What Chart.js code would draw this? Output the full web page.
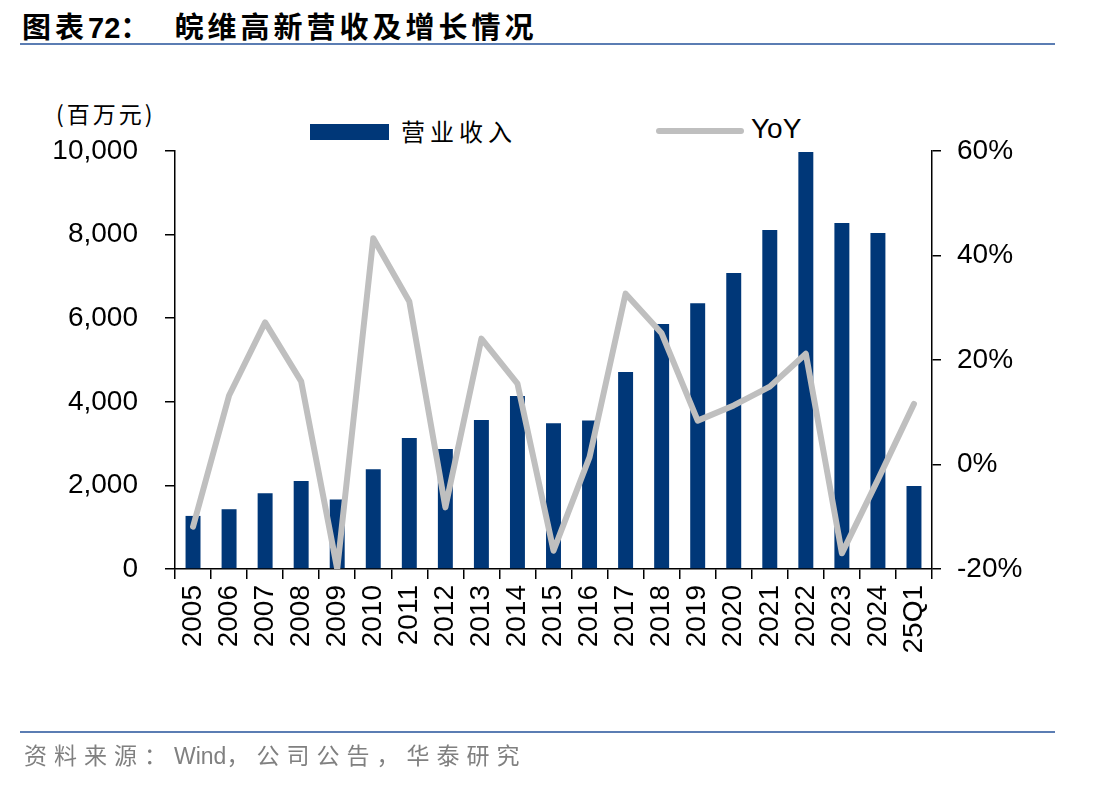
<!DOCTYPE html>
<html>
<head>
<meta charset="utf-8">
<script src="https://cdn.jsdelivr.net/npm/chart.js@4/dist/chart.umd.min.js"></script>
<style>
    body { margin: 0; background: #fff; }
    #wrap { position: relative; width: 1112px; height: 786px; overflow: hidden; font-family: "Liberation Sans", Arial, "Noto Sans CJK SC", sans-serif; }
    #chart { position: absolute; left: 0; top: 0; }
    .title { position: absolute; left: 22px; top: 4px; font-family: "Noto Sans CJK SC", sans-serif; font-weight: 700; font-size: 29px; letter-spacing: 4px; color: #000; white-space: nowrap; }
    .title .num { font-family: "Liberation Sans", Arial, sans-serif; font-weight: 700; letter-spacing: 0; }
    .rule { position: absolute; left: 20px; width: 1035px; height: 2px; background: #5b7db3; }
    .source { position: absolute; left: 24px; top: 737px; font-family: "Noto Sans CJK SC", sans-serif; font-size: 23px; letter-spacing: 7px; color: #808080; white-space: nowrap; }
    .source .w { font-family: "Liberation Sans", Arial, sans-serif; letter-spacing: 0; }
    .unit { position: absolute; left: 56px; top: 96px; font-family: "Noto Sans CJK SC", sans-serif; font-size: 23px; letter-spacing: 3px; color: #000; }
    .lg-bar { position: absolute; left: 310px; top: 124px; width: 79px; height: 16px; background: #003778; }
    .lg-line { position: absolute; left: 656px; top: 128px; width: 88px; height: 6px; border-radius: 3px; background: #bfbfbf; }
    .lg-text { position: absolute; font-size: 26px; color: #000; }
</style>
</head>
<body>
<div id="wrap">
    <div class="title">图表<span class="num">72</span>：&nbsp;&nbsp;皖维高新营收及增长情况</div>
    <div class="rule" style="top:43px"></div>
    <div class="unit">(百万元)</div>
    <div class="lg-bar"></div>
    <div class="lg-text" style="left:401px; top:113px; font-family:'Noto Sans CJK SC', sans-serif; letter-spacing:5px; font-size:24px;">营业收入</div>
    <div class="lg-line"></div>
    <div class="lg-text" style="left:751px; top:113px; font-size:28px;">YoY</div>
    <canvas id="chart" width="1112" height="786"></canvas>
    <div class="rule" style="top:731px"></div>
    <div class="source">资料来源：<span class="w">Wind</span>，公司公告，华泰研究</div>
</div>
<script>
const categories = ['2005', '2006', '2007', '2008', '2009', '2010', '2011', '2012', '2013', '2014',
    '2015', '2016', '2017', '2018', '2019', '2020', '2021', '2022', '2023', '2024', '25Q1'];
const revenue = [1270, 1430, 1810, 2105, 1665, 2385, 3134, 2870, 3565, 4140,
    3485, 3550, 4710, 5860, 6360, 7080, 8110, 9975, 8280, 8040, 1985];
const yoy = [-11.9, 13.2, 27.2, 15.9, -20.0, 43.3, 31.2, -8.2, 24.1, 15.5,
    -16.5, 1.4, 32.7, 25.1, 8.4, 11.3, 14.9, 21.2, -17.0, -2.9, 11.6];
const leftTicks = [0, 2000, 4000, 6000, 8000, 10000];
const rightTicks = [-20, 0, 20, 40, 60];

const tickFont = { family: '"Liberation Sans", Arial, sans-serif', size: 28 };

new Chart(document.getElementById('chart'), {
    type: 'bar',
    data: {
        labels: categories,
        datasets: [
            {
                type: 'line',
                label: 'YoY',
                data: yoy,
                yAxisID: 'y1',
                borderColor: '#bfbfbf',
                borderWidth: 6,
                borderCapStyle: 'round',
                borderJoinStyle: 'round',
                pointRadius: 0,
                tension: 0,
                order: 1
            },
            {
                label: '营业收入',
                data: revenue,
                yAxisID: 'y',
                backgroundColor: '#003778',
                barPercentage: 0.83,
                categoryPercentage: 0.5,
                order: 2
            }
        ]
    },
    options: {
        responsive: false,
        devicePixelRatio: 1,
        animation: false,
        layout: { padding: { top: 151, left: 0, right: 0, bottom: 0 } },
        plugins: {
            legend: { display: false },
            tooltip: { enabled: false }
        },
        scales: {
            x: {
                offset: true,
                grid: { offset: true, drawOnChartArea: false, color: '#000', tickLength: 10, lineWidth: 1.5 },
                border: { color: '#000', width: 1.5 },
                ticks: { font: tickFont, color: '#000', minRotation: 90, maxRotation: 90, autoSkip: false, padding: 6 },
                afterFit: (s) => { s.height = 217; }
            },
            y: {
                position: 'left',
                min: 0,
                max: 10000,
                afterBuildTicks: (s) => { s.ticks = leftTicks.map(v => ({ value: v })); },
                grid: { drawOnChartArea: false, color: '#000', tickLength: 10, lineWidth: 1.5 },
                border: { color: '#000', width: 1.5 },
                ticks: {
                    font: tickFont, color: '#000', padding: 27,
                    callback: (v) => v.toLocaleString('en-US')
                },
                afterFit: (s) => { s.width = 175; }
            },
            y1: {
                position: 'right',
                min: -20,
                max: 60,
                afterBuildTicks: (s) => { s.ticks = rightTicks.map(v => ({ value: v })); },
                grid: { drawOnChartArea: false, color: '#000', tickLength: 9, lineWidth: 1.5 },
                border: { color: '#000', width: 1.5 },
                ticks: {
                    font: tickFont, color: '#000', padding: 16,
                    callback: (v) => v + '%'
                },
                afterFit: (s) => { s.width = 180; }
            }
        }
    }
});
</script>
</body>
</html>
